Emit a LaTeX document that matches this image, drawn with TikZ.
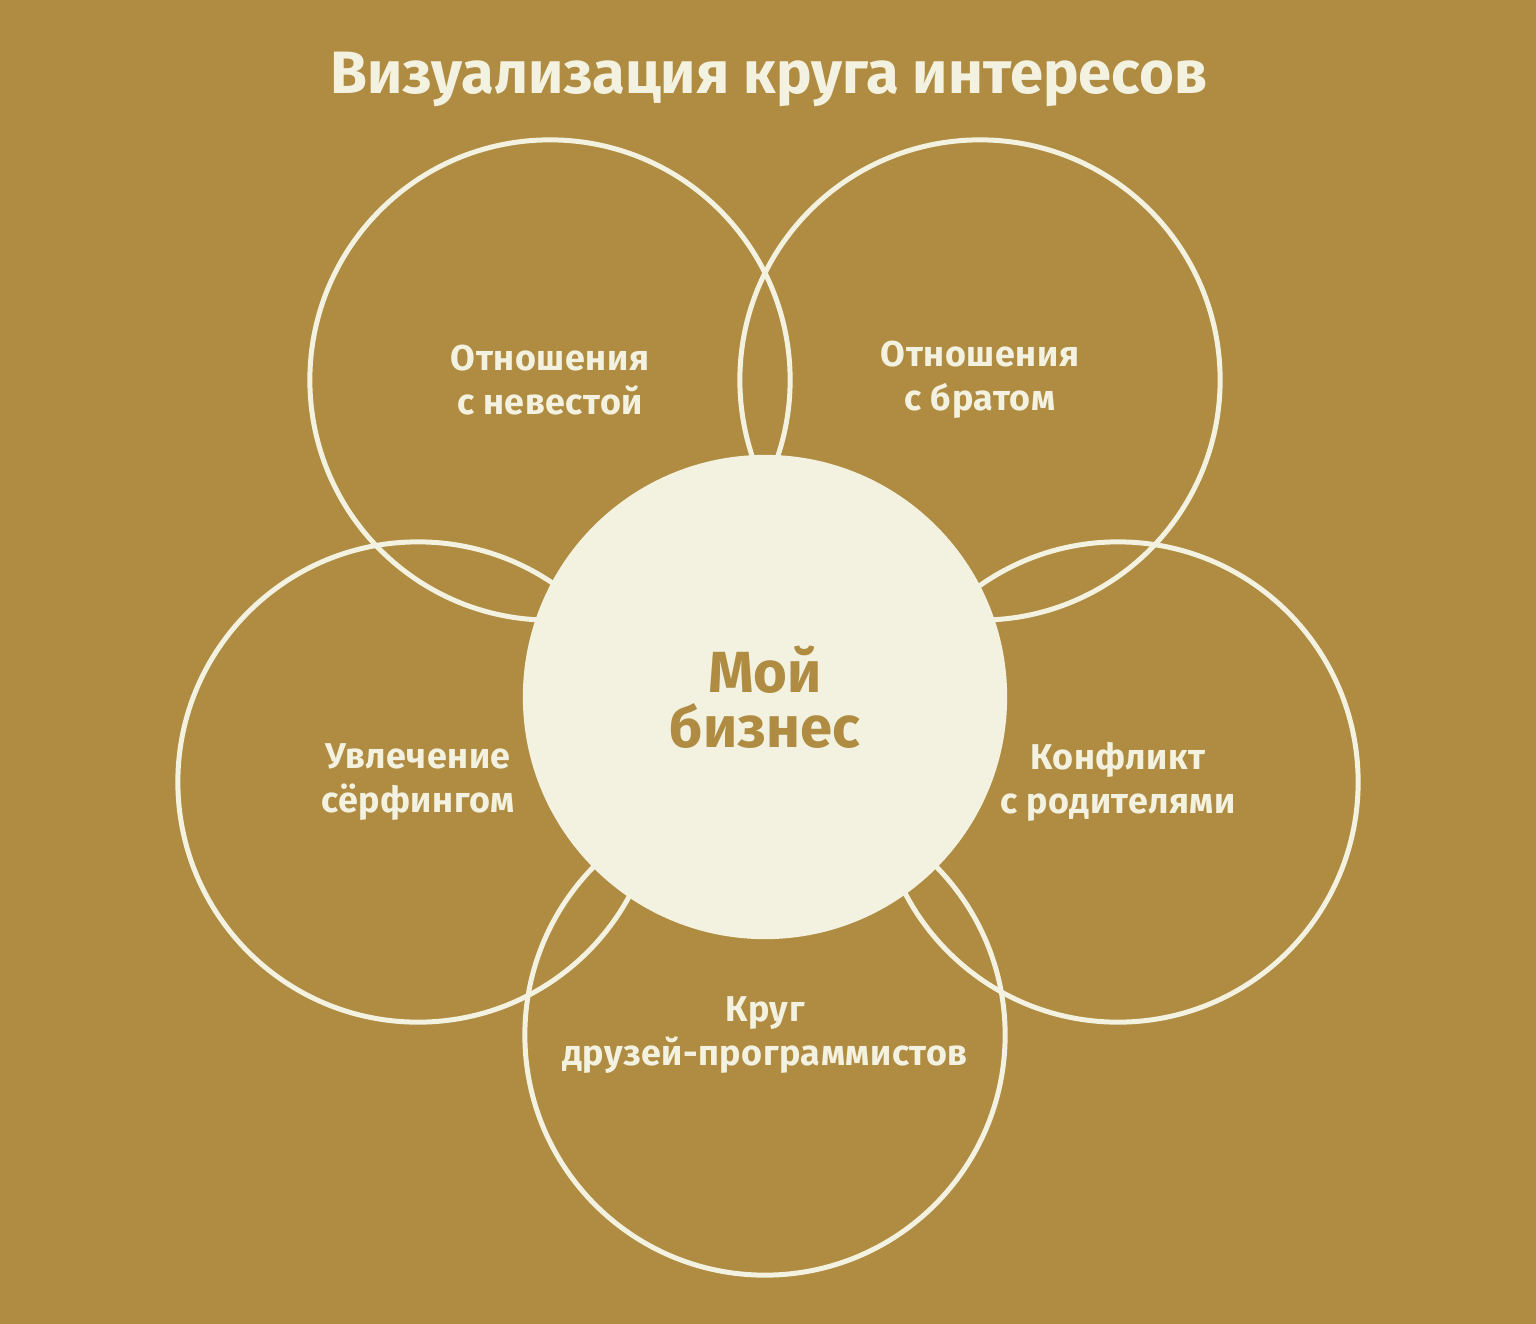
\documentclass[tikz,border=0pt]{standalone}
\usepackage{fontspec}
\setmainfont{Fira Sans}
\definecolor{gold}{HTML}{AF8C42}
\definecolor{cream}{HTML}{F3F1DF}
\begin{document}
\begin{tikzpicture}[x=0.01cm, y=-0.01cm,
    ring/.style={circle, draw=cream, line width=0.05cm, minimum size=4.8cm,
      inner sep=0pt, align=center, text=cream,
      font=\fontsize{10.2}{12.6}\selectfont\bfseries\addfontfeatures{LetterSpace=1.5}},
    core/.style={circle, fill=cream, minimum size=4.84cm, inner sep=0pt,
      align=center, text=gold, font=\fontsize{16.5}{15.6}\selectfont\bfseries}]
    % background fixes the page size
    \fill[gold] (0, 0) rectangle (1536, 1324);
    \node[anchor=base, text=cream, font=\fontsize{17}{19}\selectfont\bfseries]
      (title) at (769, 93) {Визуализация круга интересов};
    % five circles of interest round the centre
    \node[ring] (bride) at (550, 380) {Отношения\\с невестой};
    \node[ring] (brother) at (980, 380) {Отношения\\с братом};
    \node[ring] (surf) at (418, 782) {Увлечение\\сёрфингом};
    \node[ring] (parents) at (1118, 782) {Конфликт\\с родителями};
    \node[ring] (friends) at (765, 1035) {Круг\\друзей-программистов};
    % the centre covers the rings
    \node[core] (business) at (765, 697) {Мой\\бизнес};
\end{tikzpicture}
\end{document}
